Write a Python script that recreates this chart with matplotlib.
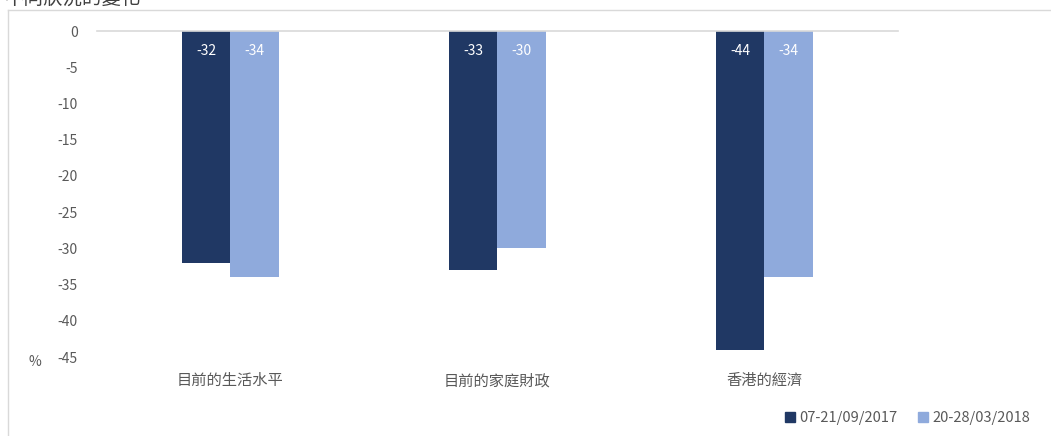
#!/usr/bin/env python3
"""Clustered bar chart: change in views, two survey periods."""

import matplotlib
matplotlib.use("Agg")
import matplotlib.pyplot as plt
from matplotlib.lines import Line2D
from matplotlib.patches import Patch
import numpy as np

plt.rcParams["font.family"] = ["Noto Sans CJK TC", "DejaVu Sans"]

TITLE = "不同狀況的變化"
categories = ["目前的生活水平", "目前的家庭財政", "香港的經濟"]
series_names = ["07-21/09/2017", "20-28/03/2018"]
values_2017 = [-32, -33, -44]
values_2018 = [-34, -30, -34]
y_ticks = [0, -5, -10, -15, -20, -25, -30, -35, -40, -45]

DARK = "#203864"
LIGHT = "#8FAADC"
GRAY = "#595959"
FRAME = "#D9D9D9"


def main() -> None:
    fig = plt.figure(figsize=(10.51, 4.36), dpi=100)
    ax = fig.add_axes([97 / 1051, 1 - 357 / 436, 801 / 1051, 326 / 436])

    x = np.arange(len(categories))
    width = 0.18
    bars_a = ax.bar(x - width / 2, values_2017, width, color=DARK)
    bars_b = ax.bar(x + width / 2, values_2018, width, color=LIGHT)

    for bars in (bars_a, bars_b):
        for b in bars:
            ax.text(b.get_x() + b.get_width() / 2, -2.7, f"{int(b.get_height())}",
                    ha="center", va="center", color="white", fontsize=10)

    ax.set_xlim(-0.5, len(categories) - 0.5)
    ax.set_ylim(-45, 0)
    ax.set_yticks(y_ticks)
    ax.set_yticklabels([str(v) for v in y_ticks])
    ax.tick_params(axis="y", length=0, pad=14, labelsize=10, labelcolor=GRAY)
    ax.set_xticks([])
    for side in ("left", "right", "bottom"):
        ax.spines[side].set_visible(False)
    ax.spines["top"].set_color(FRAME)
    ax.spines["top"].set_linewidth(1.2)

    # category labels sit below the plot area
    for xi, name in zip(x, categories):
        ax.annotate(name, xy=(xi, -45), xytext=(0, -17), textcoords="offset points",
                    ha="center", va="center", fontsize=11, color=GRAY,
                    annotation_clip=False)

    fig.text(35 / 1051, 1 - 362 / 436, "%", ha="center", va="center",
             fontsize=10, color=GRAY)

    # clipped title at the very top, as in the source
    fig.text(0.004, 1 - 4 / 436, TITLE, ha="left", va="baseline",
             fontsize=14, color="#404040")

    # chart frame (top and left edges visible)
    fig.add_artist(Line2D([8 / 1051, 1], [1 - 10 / 436, 1 - 10 / 436],
                          color=FRAME, linewidth=1, transform=fig.transFigure))
    fig.add_artist(Line2D([8 / 1051, 8 / 1051], [0, 1 - 10 / 436],
                          color=FRAME, linewidth=1, transform=fig.transFigure))

    handles = [Patch(color=DARK), Patch(color=LIGHT)]
    fig.legend(handles, series_names, loc="center right",
               bbox_to_anchor=(1036 / 1051, 1 - 418 / 436), ncol=2, frameon=False,
               fontsize=10.5, labelcolor=GRAY, handlelength=0.7, handleheight=0.7,
               handletextpad=0.3, columnspacing=1.4, borderaxespad=0)

    fig.savefig("out.png", dpi=100)
    plt.close(fig)


if __name__ == "__main__":
    main()
